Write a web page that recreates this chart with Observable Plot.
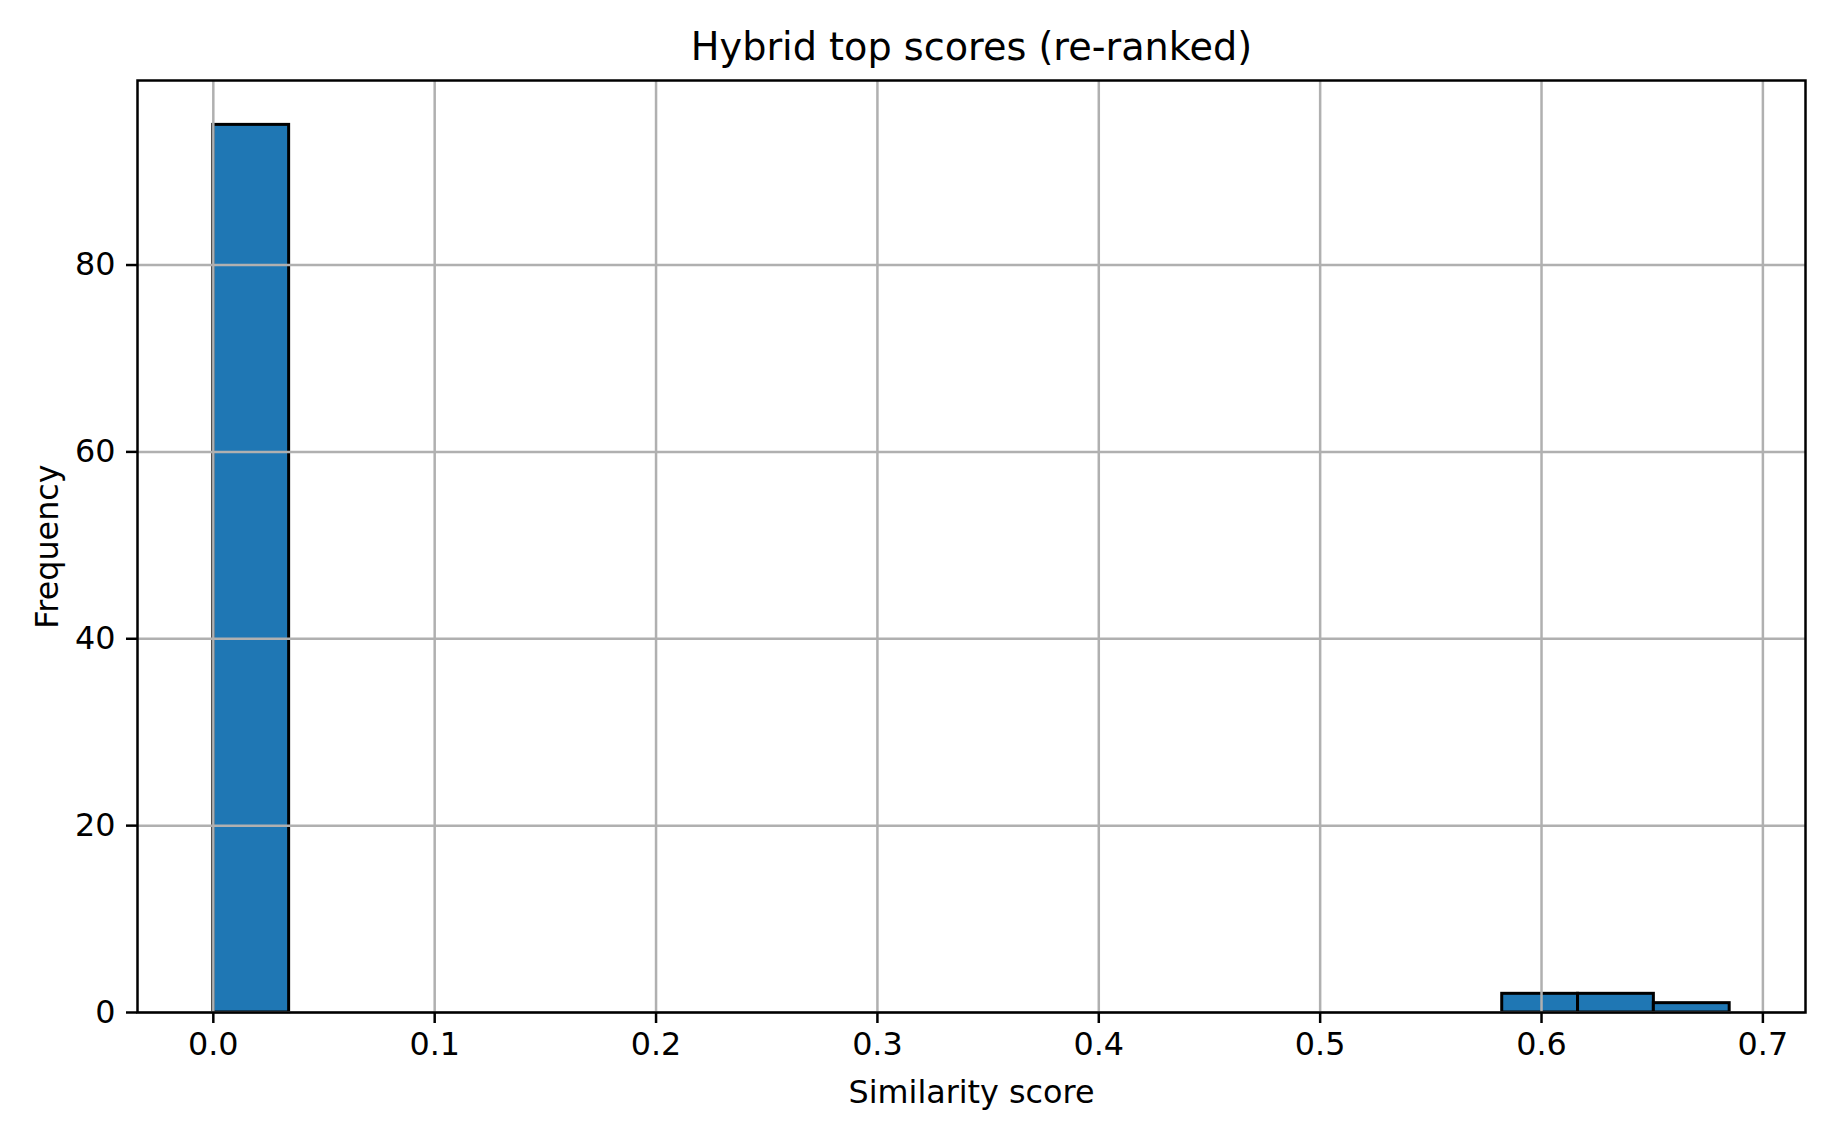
<!DOCTYPE html>
<html>
<head>
<meta charset="utf-8">
<script src="https://cdn.jsdelivr.net/npm/d3@7"></script>
<script src="https://cdn.jsdelivr.net/npm/@observablehq/plot@0.6"></script>
<style>
  html, body { margin: 0; padding: 0; background: #fff; }
  svg { display: block; }
</style>
</head>
<body>
<div id="chart"></div>
<script>
// Histogram data
const binCounts = [95, 0, 0, 0, 0, 0, 0, 0, 0, 0, 0, 0, 0, 0, 0, 0, 0, 2, 2, 1];
const scoreMin = 0.0;
const scoreMax = 0.685;
const xTicks = [0.0, 0.1, 0.2, 0.3, 0.4, 0.5, 0.6, 0.7];
const yTicks = [0, 20, 40, 60, 80];
const titleText = "Hybrid top scores (re-ranked)";
const xLabel = "Similarity score";
const yLabel = "Frequency";

const nBins = binCounts.length;
const binWidth = (scoreMax - scoreMin) / nBins;
const bins = binCounts.map((c, i) => ({
  x1: scoreMin + i * binWidth,
  x2: scoreMin + (i + 1) * binWidth,
  count: c
})).filter(d => d.count > 0);

const xPad = (scoreMax - scoreMin) * 0.05;
const yMax = d3.max(binCounts) * 1.05;

const tickFont = 31.8;
const titleFont = 38.2;

const chart = Plot.plot({
  width: 1844,
  height: 1131,
  marginLeft: 137,
  marginRight: 39,
  marginTop: 80,
  marginBottom: 119,
  style: { fontFamily: "DejaVu Sans", background: "#fff", color: "#000" },
  x: { domain: [scoreMin - xPad, scoreMax + xPad] },
  y: { domain: [0, yMax] },
  marks: [
    Plot.rect(bins, {
      x1: "x1", x2: "x2", y1: 0, y2: "count",
      fill: "#1f77b4", stroke: "#000", strokeWidth: 3, inset: 0
    }),
    Plot.gridX(xTicks, { stroke: "#b0b0b0", strokeOpacity: 1, strokeWidth: 2.5 }),
    Plot.gridY(yTicks, { stroke: "#b0b0b0", strokeOpacity: 1, strokeWidth: 2.5 }),
    Plot.frame({ stroke: "#000", strokeWidth: 2.5 }),
    Plot.axisX({
      ticks: xTicks, tickFormat: d3.format(".1f"), tickSize: 11, tickPadding: 9,
      fontSize: tickFont, strokeWidth: 2.5, label: null, stroke: "#000", fill: "#000"
    }),
    Plot.axisY({
      ticks: yTicks, tickFormat: d3.format("d"), tickSize: 11, tickPadding: 11,
      fontSize: tickFont, strokeWidth: 2.5, label: null, stroke: "#000", fill: "#000"
    }),
    Plot.text([titleText], {
      frameAnchor: "top", dy: -33, fontSize: titleFont, fill: "#000", lineAnchor: "middle"
    }),
    Plot.text([xLabel], {
      frameAnchor: "bottom", dy: 80, fontSize: tickFont, fill: "#000", lineAnchor: "middle"
    }),
    Plot.text([yLabel], {
      frameAnchor: "left", dx: -90, rotate: -90, fontSize: tickFont, fill: "#000",
      textAnchor: "middle", lineAnchor: "middle"
    })
  ]
});
document.getElementById("chart").appendChild(chart);
</script>
</body>
</html>
